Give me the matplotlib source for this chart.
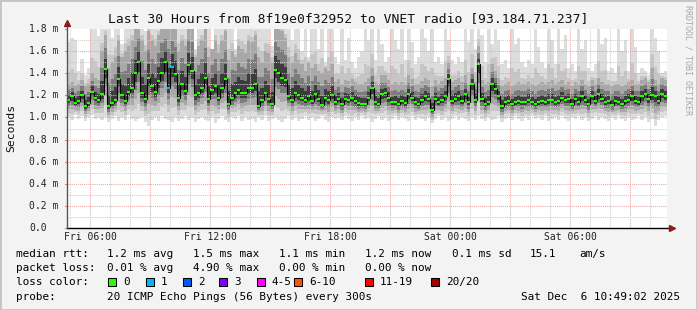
import numpy as np
import matplotlib
matplotlib.use('Agg')  # headless
import matplotlib.pyplot as plt
import matplotlib.transforms as mtransforms
from matplotlib.patches import Rectangle

# -------------------------------
# Data (10 minute steps)
# -------------------------------
start_hour = 4.85        # Fri 04:51, hours since Fri 00:00
step_hours = 1.0 / 6.0   # 10 minutes

median_ms = [
    1.16, 1.19, 1.13, 1.15, 1.20, 1.10, 1.13, 1.23, 1.18, 1.16,
    1.21, 1.44, 1.10, 1.13, 1.16, 1.35, 1.20, 1.15, 1.23, 1.27,
    1.40, 1.50, 1.22, 1.17, 1.36, 1.28, 1.23, 1.33, 1.40, 1.50,
    1.27, 1.46, 1.39, 1.18, 1.30, 1.24, 1.47, 1.42, 1.20, 1.22,
    1.27, 1.36, 1.17, 1.25, 1.28, 1.18, 1.27, 1.35, 1.12, 1.18,
    1.22, 1.25, 1.22, 1.22, 1.27, 1.27, 1.30, 1.10, 1.16, 1.22,
    1.17, 1.12, 1.43, 1.40, 1.36, 1.34, 1.19, 1.16, 1.22, 1.20,
    1.18, 1.16, 1.19, 1.15, 1.21, 1.17, 1.11, 1.18, 1.16, 1.20,
    1.14, 1.17, 1.12, 1.17, 1.16, 1.18, 1.15, 1.13, 1.12, 1.12,
    1.18, 1.27, 1.14, 1.12, 1.21, 1.22, 1.18, 1.14, 1.14, 1.12,
    1.15, 1.13, 1.21, 1.18, 1.14, 1.12, 1.16, 1.19, 1.17, 1.07,
    1.17, 1.14, 1.16, 1.19, 1.35, 1.15, 1.17, 1.19, 1.15, 1.21,
    1.14, 1.30, 1.16, 1.48, 1.17, 1.12, 1.14, 1.30, 1.26, 1.19,
    1.10, 1.14, 1.15, 1.12, 1.14, 1.15, 1.14, 1.14, 1.16, 1.14,
    1.12, 1.14, 1.15, 1.14, 1.16, 1.16, 1.14, 1.15, 1.18, 1.16,
    1.17, 1.12, 1.17, 1.14, 1.19, 1.16, 1.12, 1.19, 1.15, 1.21,
    1.17, 1.14, 1.15, 1.11, 1.15, 1.14, 1.12, 1.15, 1.16, 1.19,
    1.15, 1.14, 1.19, 1.21, 1.17, 1.20, 1.19, 1.15, 1.21, 1.19,
]

# highest ping of each step (top of the light smoke)
max_ms = [
    1.68, 1.72, 1.70, 1.42, 1.53, 1.38, 1.45, 1.85, 1.85, 1.74,
    1.85, 1.85, 1.85, 1.72, 1.85, 1.85, 1.66, 1.85, 1.85, 1.85,
    1.85, 1.85, 1.85, 1.78, 1.85, 1.85, 1.85, 1.85, 1.85, 1.85,
    1.85, 1.85, 1.70, 1.85, 1.85, 1.85, 1.85, 1.85, 1.62, 1.85,
    1.85, 1.85, 1.85, 1.58, 1.85, 1.85, 1.85, 1.85, 1.85, 1.85,
    1.62, 1.85, 1.85, 1.85, 1.85, 1.85, 1.85, 1.85, 1.85, 1.85,
    1.85, 1.65, 1.85, 1.85, 1.85, 1.85, 1.85, 1.70, 1.85, 1.85,
    1.60, 1.85, 1.55, 1.85, 1.85, 1.62, 1.85, 1.50, 1.85, 1.85,
    1.55, 1.48, 1.85, 1.52, 1.72, 1.50, 1.45, 1.55, 1.60, 1.85,
    1.70, 1.85, 1.52, 1.85, 1.66, 1.50, 1.55, 1.85, 1.70, 1.62,
    1.85, 1.52, 1.85, 1.68, 1.48, 1.55, 1.85, 1.72, 1.60, 1.85,
    1.50, 1.55, 1.48, 1.85, 1.70, 1.52, 1.48, 1.55, 1.50, 1.85,
    1.68, 1.85, 1.62, 1.85, 1.75, 1.50, 1.85, 1.66, 1.85, 1.70,
    1.48, 1.52, 1.45, 1.85, 1.66, 1.72, 1.50, 1.46, 1.52, 1.48,
    1.85, 1.64, 1.50, 1.45, 1.85, 1.70, 1.48, 1.85, 1.62, 1.75,
    1.45, 1.48, 1.42, 1.85, 1.62, 1.70, 1.45, 1.42, 1.48, 1.85,
    1.66, 1.72, 1.42, 1.45, 1.40, 1.85, 1.60, 1.70, 1.42, 1.85,
    1.64, 1.40, 1.45, 1.42, 1.38, 1.85, 1.72, 1.60, 1.40, 1.42,
]

# top of the denser (medium grey) smoke
upper_ms = [
    1.30, 1.32, 1.28, 1.30, 1.34, 1.28, 1.30, 1.40, 1.36, 1.34,
    1.60, 1.75, 1.45, 1.50, 1.55, 1.70, 1.55, 1.60, 1.65, 1.70,
    1.80, 1.85, 1.70, 1.60, 1.78, 1.70, 1.65, 1.75, 1.85, 1.85,
    1.85, 1.85, 1.80, 1.60, 1.70, 1.65, 1.85, 1.85, 1.55, 1.65,
    1.70, 1.80, 1.55, 1.62, 1.70, 1.58, 1.70, 1.78, 1.52, 1.60,
    1.55, 1.65, 1.62, 1.58, 1.70, 1.68, 1.75, 1.55, 1.50, 1.60,
    1.58, 1.50, 1.85, 1.80, 1.78, 1.72, 1.55, 1.50, 1.58, 1.52,
    1.48, 1.42, 1.50, 1.45, 1.48, 1.42, 1.40, 1.45, 1.42, 1.48,
    1.32, 1.35, 1.30, 1.34, 1.33, 1.35, 1.32, 1.30, 1.30, 1.32,
    1.36, 1.45, 1.32, 1.30, 1.38, 1.38, 1.34, 1.30, 1.32, 1.30,
    1.32, 1.30, 1.38, 1.35, 1.30, 1.30, 1.33, 1.36, 1.34, 1.28,
    1.34, 1.30, 1.33, 1.36, 1.50, 1.32, 1.34, 1.36, 1.32, 1.38,
    1.30, 1.45, 1.32, 1.65, 1.34, 1.30, 1.32, 1.48, 1.42, 1.36,
    1.28, 1.30, 1.32, 1.28, 1.30, 1.32, 1.30, 1.30, 1.32, 1.30,
    1.28, 1.30, 1.32, 1.30, 1.32, 1.34, 1.30, 1.32, 1.34, 1.30,
    1.32, 1.28, 1.32, 1.30, 1.34, 1.30, 1.28, 1.34, 1.30, 1.36,
    1.32, 1.30, 1.30, 1.28, 1.30, 1.30, 1.28, 1.30, 1.32, 1.34,
    1.30, 1.30, 1.34, 1.36, 1.32, 1.45, 1.34, 1.30, 1.36, 1.34,
]

# lowest ping of each step
min_ms = [
    1.00, 0.98, 1.02, 0.99, 1.01, 0.97, 1.00, 1.02, 0.99, 1.00,
    0.98, 1.00, 0.96, 0.99, 1.01, 0.97, 1.00, 0.98, 1.02, 0.99,
    0.97, 0.99, 1.00, 0.96, 0.92, 0.98, 1.00, 0.97, 1.01, 0.99,
    0.98, 0.96, 1.00, 0.97, 0.99, 1.01, 0.98, 1.00, 0.96, 0.99,
    1.00, 0.98, 0.97, 1.00, 0.95, 0.99, 1.01, 0.98, 0.96, 1.00,
    0.99, 1.01, 0.97, 1.00, 0.98, 0.99, 0.96, 1.00, 0.98, 1.01,
    0.97, 0.99, 1.00, 0.98, 0.96, 0.99, 1.01, 0.98, 1.00, 0.97,
    0.99, 1.01, 0.98, 1.00, 0.97, 0.99, 1.01, 0.98, 0.96, 1.00,
    0.99, 1.00, 0.98, 1.01, 0.99, 0.97, 1.00, 0.98, 1.01, 0.99,
    1.00, 0.96, 0.99, 1.01, 0.98, 1.00, 0.97, 0.99, 1.01, 0.98,
    1.00, 0.99, 0.97, 1.01, 0.98, 1.00, 0.99, 0.97, 1.00, 0.95,
    0.99, 1.01, 0.98, 1.00, 0.97, 0.99, 1.01, 0.98, 1.00, 0.99,
    0.97, 1.00, 0.98, 1.01, 0.99, 0.97, 1.00, 0.98, 0.99, 1.01,
    0.96, 0.99, 1.00, 0.98, 1.01, 0.99, 0.97, 1.00, 0.98, 1.01,
    0.99, 1.00, 0.98, 1.01, 0.97, 0.99, 1.00, 0.98, 1.01, 0.99,
    0.97, 1.00, 0.99, 1.01, 0.98, 1.00, 0.97, 0.99, 1.01, 0.98,
    1.00, 0.99, 0.97, 1.00, 0.98, 1.01, 0.99, 0.97, 1.00, 0.98,
    0.99, 1.01, 0.98, 1.00, 0.96, 0.99, 0.92, 0.98, 1.00, 1.01,
]

# steps where pings were lost
loss_idx = [30, 31]
loss_count = [1, 1]

loss_labels = ['0', '1', '2', '3', '4-5', '6-10', '11-19', '20/20']
loss_colors = ['#26ff00', '#00b8ff', '#0059ff', '#7e00ff',
               '#ff00ff', '#ff5500', '#ff0000', '#a00000']

x_ticks = [6, 12, 18, 24, 30]
x_tick_labels = ['Fri 06:00', 'Fri 12:00', 'Fri 18:00', 'Sat 00:00', 'Sat 06:00']
y_ticks = [0.0, 0.2, 0.4, 0.6, 0.8, 1.0, 1.2, 1.4, 1.6, 1.8]
y_tick_labels = ['0.0', '0.2 m', '0.4 m', '0.6 m', '0.8 m',
                 '1.0 m', '1.2 m', '1.4 m', '1.6 m', '1.8 m']

title = 'Last 30 Hours from 8f19e0f32952 to VNET radio [93.184.71.237]'
rtt_stats = ['1.2 ms avg', '1.5 ms max', '1.1 ms min', '1.2 ms now', '0.1 ms sd', '15.1', 'am/s']
loss_stats = ['0.01 % avg', '4.90 % max', '0.00 % min', '0.00 % now']
probe_text = '20 ICMP Echo Pings (56 Bytes) every 300s'
stamp_text = 'Sat Dec  6 10:49:02 2025'

# -------------------------------
# Figure
# -------------------------------
W, H = 697, 310
plt.rcParams['font.family'] = 'DejaVu Sans Mono'

fig = plt.figure(figsize=(W / 100, H / 100), dpi=100, facecolor='#f3f3f3')
ax = fig.add_axes([67 / W, (H - 228) / H, 600 / W, 199 / H])
ax.set_facecolor('white')

med = np.array(median_ms)
hi = np.array(max_ms)
up = np.array(upper_ms)
lo = np.array(min_ms)
n = len(med)
edges = start_hour + step_hours * np.arange(n + 1)

# smoke, outer light to inner dark
bands = [
    (hi, lo, '#dddddd'),
    (up + (hi - up) * 0.3, med - (med - lo) * 0.75, '#c6c6c6'),
    (up, med - (med - lo) * 0.55, '#a8a8a8'),
    (med + (up - med) * 0.6, med - (med - lo) * 0.35, '#7c7c7c'),
    (med + (up - med) * 0.3, med - (med - lo) * 0.18, '#3c3c3c'),
]
for top, bottom, col in bands:
    ax.stairs(top, edges, baseline=bottom, fill=True, color=col, lw=0, zorder=1)

# median: black steps plus coloured segments
ax.stairs(med, edges, baseline=None, color='black', lw=0.8, zorder=3)
seg_colors = [loss_colors[0]] * n
for i, c in zip(loss_idx, loss_count):
    seg_colors[i] = loss_colors[c]
ax.hlines(med, edges[:-1], edges[1:], colors=seg_colors, lw=1.5, zorder=4)

x0, x1 = edges[0], edges[-1]
ax.set_xlim(x0, x1)
ax.set_ylim(0, 1.8)

# grid
dot = (0, (1, 1))
for h in range(5, 35):
    major = h % 3 == 0
    ax.axvline(h, color='#e8a6a6' if major else '#cdcdcd', lw=0.75, ls=dot, zorder=2.5)
for k in range(1, 18):
    major = k % 2 == 0
    ax.axhline(k * 0.1, color='#e8a6a6' if major else '#cdcdcd', lw=0.75, ls=dot, zorder=2.5)

for s in ax.spines.values():
    s.set_visible(False)
ax.set_xticks(x_ticks, x_tick_labels)
ax.set_yticks([])
ax.tick_params(axis='x', length=0, pad=3, labelsize=7, labelcolor='#222222')

# axes with arrows
px_y = 1.8 / 199
px_x = (x1 - x0) / 600
ax.plot([x0, x1 + 4 * px_x], [0, 0], color='black', lw=1, clip_on=False, zorder=5)
ax.plot([x0, x0], [0, 1.8 + 5 * px_y], color='#555555', lw=1, clip_on=False, zorder=5)
ax.plot([x0], [1.8 + 6 * px_y], marker='^', ms=5, color='#8b1a1a', clip_on=False, zorder=6)
ax.plot([x1 + 5 * px_x], [0], marker='>', ms=5, color='#8b1a1a', clip_on=False, zorder=6)

# y labels, left aligned like rrdtool
ytr = mtransforms.blended_transform_factory(fig.transFigure, ax.transData)
for v, lab in zip(y_ticks, y_tick_labels):
    ax.text(29 / W, v, lab, transform=ytr, ha='left', va='center', fontsize=7, color='#222222')
    ax.plot([x0 - 2 * px_x, x0], [v, v], color='#e08080', lw=0.75, clip_on=False)

def fig_text(x, y, s, **kw):
    fig.text(x / W, 1 - y / H, s, va='center', **kw)

fig_text(348, 19, title, ha='center', fontsize=9.4, color='#111111')
fig_text(11, 128, 'Seconds', ha='center', rotation=90, fontsize=8.2, color='#111111')
fig_text(688, 60, 'RRDTOOL / TOBI OETIKER', ha='center', rotation=270,
         fontsize=6, color='#a8a8a8')

# legend
lx = 16
cols = [107, 193, 279, 365, 452, 530, 579]
fs = 7.9
fig_text(lx, 254, 'median rtt:', fontsize=fs)
for x, s in zip(cols, rtt_stats):
    fig_text(x, 254, s, fontsize=fs)
fig_text(lx, 268, 'packet loss:', fontsize=fs)
for x, s in zip(cols, loss_stats):
    fig_text(x, 268, s, fontsize=fs)
fig_text(lx, 282, 'loss color:', fontsize=fs)
box_x = [108, 146, 183, 219, 257, 294, 365, 431]
for bx, lab, col in zip(box_x, loss_labels, loss_colors):
    fig.patches.append(Rectangle((bx / W, 1 - 286 / H), 8 / W, 8 / H,
                                 transform=fig.transFigure, facecolor=col,
                                 edgecolor='black', lw=0.75))
    fig_text(bx + 15, 282, lab, fontsize=fs)
fig_text(lx, 297, 'probe:', fontsize=fs)
fig_text(107, 297, probe_text, fontsize=fs)
fig_text(680, 297, stamp_text, ha='right', fontsize=fs)

# frame
fig.patches.append(Rectangle((0, 0), 1, 1, transform=fig.transFigure, fill=False,
                             edgecolor='#c4c4c4', lw=2))

fig.savefig('out.png', dpi=100, facecolor=fig.get_facecolor())
